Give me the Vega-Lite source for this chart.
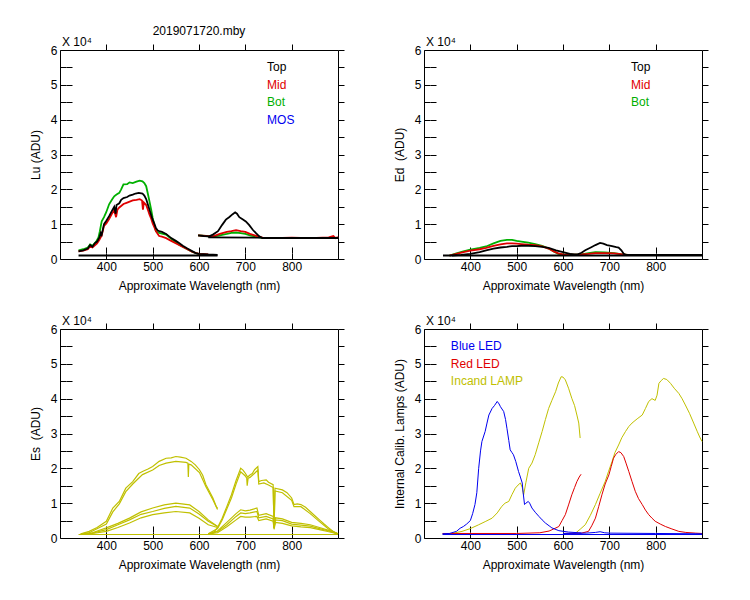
{
  "$schema": "https://vega.github.io/schema/vega-lite/v6.json",
  "background": "white",
  "padding": {"left": 28, "top": 24, "right": 5, "bottom": 5},
  "config": {
    "font": "Liberation Sans",
    "view": {"stroke": "black", "strokeWidth": 1},
    "axis": {
      "domain": false,
      "ticks": true,
      "offset": -6,
      "tickSize": 6,
      "tickColor": "black",
      "tickOpacity": 1,
      "tickWidth": 1,
      "grid": true,
      "gridColor": "black",
      "gridOpacity": 1,
      "gridWidth": 1,
      "labelFontSize": 12,
      "labelColor": "black",
      "titleFontSize": 12,
      "titleFontWeight": "normal",
      "titleColor": "black"
    },
    "axisX": {"gridDash": [6, 197]},
    "axisY": {"gridDash": [6, 266]},
    "text": {"fontSize": 12}
  },
  "datasets": {
    "lu": [
      {"s":"Bot","g":"BotA","w":340,"v":0.25},{"s":"Bot","g":"BotA","w":350,"v":0.28},{"s":"Bot","g":"BotA","w":360,"v":0.33},{"s":"Bot","g":"BotA","w":365,"v":0.42},{"s":"Bot","g":"BotA","w":370,"v":0.38},{"s":"Bot","g":"BotA","w":378,"v":0.5},{"s":"Bot","g":"BotA","w":383,"v":0.62},{"s":"Bot","g":"BotA","w":386,"v":0.8},{"s":"Bot","g":"BotA","w":390,"v":1.08},{"s":"Bot","g":"BotA","w":395,"v":1.2},{"s":"Bot","g":"BotA","w":400,"v":1.35},{"s":"Bot","g":"BotA","w":406,"v":1.57},{"s":"Bot","g":"BotA","w":412,"v":1.7},{"s":"Bot","g":"BotA","w":417,"v":1.8},{"s":"Bot","g":"BotA","w":422,"v":1.85},{"s":"Bot","g":"BotA","w":428,"v":1.9},{"s":"Bot","g":"BotA","w":432,"v":2.0},{"s":"Bot","g":"BotA","w":437,"v":2.14},{"s":"Bot","g":"BotA","w":445,"v":2.15},{"s":"Bot","g":"BotA","w":450,"v":2.2},{"s":"Bot","g":"BotA","w":457,"v":2.18},{"s":"Bot","g":"BotA","w":465,"v":2.22},{"s":"Bot","g":"BotA","w":472,"v":2.25},{"s":"Bot","g":"BotA","w":478,"v":2.23},{"s":"Bot","g":"BotA","w":482,"v":2.18},{"s":"Bot","g":"BotA","w":486,"v":2.09},{"s":"Bot","g":"BotA","w":490,"v":1.85},{"s":"Bot","g":"BotA","w":493,"v":1.66},{"s":"Bot","g":"BotA","w":497,"v":1.4},{"s":"Bot","g":"BotA","w":500,"v":1.18},{"s":"Bot","g":"BotA","w":504,"v":0.95},{"s":"Bot","g":"BotA","w":507,"v":0.8},{"s":"Bot","g":"BotA","w":511,"v":0.76},{"s":"Bot","g":"BotA","w":514,"v":0.75},{"s":"Bot","g":"BotA","w":520,"v":0.73},{"s":"Bot","g":"BotA","w":529,"v":0.7},{"s":"Bot","g":"BotA","w":540,"v":0.58},{"s":"Bot","g":"BotA","w":557,"v":0.41},{"s":"Bot","g":"BotA","w":575,"v":0.28},{"s":"Bot","g":"BotA","w":586,"v":0.2},{"s":"Bot","g":"BotA","w":600,"v":0.14},{"s":"Bot","g":"BotA","w":620,"v":0.12},
      {"s":"Bot","g":"BotB","w":598,"v":0.68},{"s":"Bot","g":"BotB","w":615,"v":0.66},{"s":"Bot","g":"BotB","w":630,"v":0.64},{"s":"Bot","g":"BotB","w":645,"v":0.68},{"s":"Bot","g":"BotB","w":660,"v":0.72},{"s":"Bot","g":"BotB","w":670,"v":0.75},{"s":"Bot","g":"BotB","w":680,"v":0.76},{"s":"Bot","g":"BotB","w":690,"v":0.74},{"s":"Bot","g":"BotB","w":700,"v":0.72},{"s":"Bot","g":"BotB","w":710,"v":0.68},{"s":"Bot","g":"BotB","w":720,"v":0.65},{"s":"Bot","g":"BotB","w":730,"v":0.62},{"s":"Bot","g":"BotB","w":740,"v":0.6},{"s":"Bot","g":"BotB","w":800,"v":0.6},{"s":"Bot","g":"BotB","w":900,"v":0.6},
      {"s":"Mid","g":"MidA","w":340,"v":0.22},{"s":"Mid","g":"MidA","w":350,"v":0.24},{"s":"Mid","g":"MidA","w":360,"v":0.28},{"s":"Mid","g":"MidA","w":365,"v":0.36},{"s":"Mid","g":"MidA","w":370,"v":0.33},{"s":"Mid","g":"MidA","w":380,"v":0.45},{"s":"Mid","g":"MidA","w":385,"v":0.55},{"s":"Mid","g":"MidA","w":390,"v":0.68},{"s":"Mid","g":"MidA","w":395,"v":0.95},{"s":"Mid","g":"MidA","w":400,"v":1.02},{"s":"Mid","g":"MidA","w":406,"v":1.15},{"s":"Mid","g":"MidA","w":412,"v":1.3},{"s":"Mid","g":"MidA","w":417,"v":1.4},{"s":"Mid","g":"MidA","w":421,"v":1.2},{"s":"Mid","g":"MidA","w":424,"v":1.42},{"s":"Mid","g":"MidA","w":428,"v":1.48},{"s":"Mid","g":"MidA","w":437,"v":1.58},{"s":"Mid","g":"MidA","w":445,"v":1.62},{"s":"Mid","g":"MidA","w":457,"v":1.68},{"s":"Mid","g":"MidA","w":465,"v":1.7},{"s":"Mid","g":"MidA","w":472,"v":1.72},{"s":"Mid","g":"MidA","w":477,"v":1.68},{"s":"Mid","g":"MidA","w":479,"v":1.42},{"s":"Mid","g":"MidA","w":481,"v":1.62},{"s":"Mid","g":"MidA","w":486,"v":1.55},{"s":"Mid","g":"MidA","w":490,"v":1.4},{"s":"Mid","g":"MidA","w":493,"v":1.28},{"s":"Mid","g":"MidA","w":497,"v":1.15},{"s":"Mid","g":"MidA","w":500,"v":1.02},{"s":"Mid","g":"MidA","w":504,"v":0.9},{"s":"Mid","g":"MidA","w":507,"v":0.8},{"s":"Mid","g":"MidA","w":511,"v":0.72},{"s":"Mid","g":"MidA","w":514,"v":0.66},{"s":"Mid","g":"MidA","w":520,"v":0.64},{"s":"Mid","g":"MidA","w":529,"v":0.6},{"s":"Mid","g":"MidA","w":540,"v":0.52},{"s":"Mid","g":"MidA","w":557,"v":0.4},{"s":"Mid","g":"MidA","w":575,"v":0.28},{"s":"Mid","g":"MidA","w":586,"v":0.2},{"s":"Mid","g":"MidA","w":600,"v":0.15},{"s":"Mid","g":"MidA","w":620,"v":0.13},
      {"s":"Mid","g":"MidB","w":598,"v":0.68},{"s":"Mid","g":"MidB","w":615,"v":0.66},{"s":"Mid","g":"MidB","w":630,"v":0.65},{"s":"Mid","g":"MidB","w":645,"v":0.72},{"s":"Mid","g":"MidB","w":660,"v":0.78},{"s":"Mid","g":"MidB","w":670,"v":0.8},{"s":"Mid","g":"MidB","w":680,"v":0.83},{"s":"Mid","g":"MidB","w":690,"v":0.8},{"s":"Mid","g":"MidB","w":700,"v":0.78},{"s":"Mid","g":"MidB","w":710,"v":0.72},{"s":"Mid","g":"MidB","w":720,"v":0.68},{"s":"Mid","g":"MidB","w":730,"v":0.64},{"s":"Mid","g":"MidB","w":740,"v":0.6},{"s":"Mid","g":"MidB","w":760,"v":0.6},{"s":"Mid","g":"MidB","w":800,"v":0.61},{"s":"Mid","g":"MidB","w":840,"v":0.6},{"s":"Mid","g":"MidB","w":880,"v":0.62},{"s":"Mid","g":"MidB","w":890,"v":0.66},{"s":"Mid","g":"MidB","w":895,"v":0.6},{"s":"Mid","g":"MidB","w":900,"v":0.63},
      {"s":"Top","g":"TopA","w":340,"v":0.22},{"s":"Top","g":"TopA","w":350,"v":0.25},{"s":"Top","g":"TopA","w":360,"v":0.3},{"s":"Top","g":"TopA","w":365,"v":0.4},{"s":"Top","g":"TopA","w":370,"v":0.35},{"s":"Top","g":"TopA","w":375,"v":0.45},{"s":"Top","g":"TopA","w":380,"v":0.5},{"s":"Top","g":"TopA","w":385,"v":0.62},{"s":"Top","g":"TopA","w":388,"v":0.75},{"s":"Top","g":"TopA","w":390,"v":0.7},{"s":"Top","g":"TopA","w":395,"v":1.0},{"s":"Top","g":"TopA","w":400,"v":1.1},{"s":"Top","g":"TopA","w":406,"v":1.23},{"s":"Top","g":"TopA","w":412,"v":1.38},{"s":"Top","g":"TopA","w":417,"v":1.5},{"s":"Top","g":"TopA","w":420,"v":1.3},{"s":"Top","g":"TopA","w":422,"v":1.55},{"s":"Top","g":"TopA","w":428,"v":1.6},{"s":"Top","g":"TopA","w":432,"v":1.7},{"s":"Top","g":"TopA","w":437,"v":1.75},{"s":"Top","g":"TopA","w":445,"v":1.78},{"s":"Top","g":"TopA","w":450,"v":1.82},{"s":"Top","g":"TopA","w":457,"v":1.85},{"s":"Top","g":"TopA","w":463,"v":1.88},{"s":"Top","g":"TopA","w":470,"v":1.9},{"s":"Top","g":"TopA","w":478,"v":1.88},{"s":"Top","g":"TopA","w":482,"v":1.82},{"s":"Top","g":"TopA","w":486,"v":1.72},{"s":"Top","g":"TopA","w":490,"v":1.55},{"s":"Top","g":"TopA","w":493,"v":1.42},{"s":"Top","g":"TopA","w":497,"v":1.25},{"s":"Top","g":"TopA","w":500,"v":1.13},{"s":"Top","g":"TopA","w":504,"v":1.0},{"s":"Top","g":"TopA","w":507,"v":0.89},{"s":"Top","g":"TopA","w":511,"v":0.82},{"s":"Top","g":"TopA","w":514,"v":0.8},{"s":"Top","g":"TopA","w":520,"v":0.78},{"s":"Top","g":"TopA","w":529,"v":0.72},{"s":"Top","g":"TopA","w":540,"v":0.6},{"s":"Top","g":"TopA","w":550,"v":0.52},{"s":"Top","g":"TopA","w":557,"v":0.46},{"s":"Top","g":"TopA","w":565,"v":0.38},{"s":"Top","g":"TopA","w":575,"v":0.3},{"s":"Top","g":"TopA","w":586,"v":0.22},{"s":"Top","g":"TopA","w":593,"v":0.17},{"s":"Top","g":"TopA","w":600,"v":0.15},{"s":"Top","g":"TopA","w":620,"v":0.13},{"s":"Top","g":"TopA","w":640,"v":0.12},
      {"s":"Top","g":"TopB","w":598,"v":0.68},{"s":"Top","g":"TopB","w":610,"v":0.66},{"s":"Top","g":"TopB","w":622,"v":0.65},{"s":"Top","g":"TopB","w":630,"v":0.7},{"s":"Top","g":"TopB","w":641,"v":0.8},{"s":"Top","g":"TopB","w":650,"v":0.98},{"s":"Top","g":"TopB","w":658,"v":1.13},{"s":"Top","g":"TopB","w":665,"v":1.2},{"s":"Top","g":"TopB","w":672,"v":1.28},{"s":"Top","g":"TopB","w":678,"v":1.34},{"s":"Top","g":"TopB","w":682,"v":1.3},{"s":"Top","g":"TopB","w":687,"v":1.2},{"s":"Top","g":"TopB","w":694,"v":1.14},{"s":"Top","g":"TopB","w":701,"v":1.08},{"s":"Top","g":"TopB","w":708,"v":0.98},{"s":"Top","g":"TopB","w":716,"v":0.84},{"s":"Top","g":"TopB","w":723,"v":0.74},{"s":"Top","g":"TopB","w":730,"v":0.65},{"s":"Top","g":"TopB","w":737,"v":0.6},{"s":"Top","g":"TopB","w":800,"v":0.6},{"s":"Top","g":"TopB","w":900,"v":0.6},
      {"s":"Top","g":"TopC","w":340,"v":0.1},{"s":"Top","g":"TopC","w":640,"v":0.1},
      {"s":"Top","g":"TopD","w":620,"v":0.62},{"s":"Top","g":"TopD","w":900,"v":0.61}
    ],
    "ed": [
      {"s":"Bot","g":"BotA","w":355,"v":0.1},{"s":"Bot","g":"BotA","w":370,"v":0.16},{"s":"Bot","g":"BotA","w":385,"v":0.22},{"s":"Bot","g":"BotA","w":400,"v":0.27},{"s":"Bot","g":"BotA","w":420,"v":0.32},{"s":"Bot","g":"BotA","w":434,"v":0.36},{"s":"Bot","g":"BotA","w":450,"v":0.45},{"s":"Bot","g":"BotA","w":465,"v":0.52},{"s":"Bot","g":"BotA","w":479,"v":0.55},{"s":"Bot","g":"BotA","w":490,"v":0.55},{"s":"Bot","g":"BotA","w":500,"v":0.52},{"s":"Bot","g":"BotA","w":510,"v":0.5},{"s":"Bot","g":"BotA","w":525,"v":0.47},{"s":"Bot","g":"BotA","w":540,"v":0.43},{"s":"Bot","g":"BotA","w":555,"v":0.38},{"s":"Bot","g":"BotA","w":569,"v":0.3},{"s":"Bot","g":"BotA","w":580,"v":0.22},{"s":"Bot","g":"BotA","w":590,"v":0.15},{"s":"Bot","g":"BotA","w":600,"v":0.13},{"s":"Bot","g":"BotA","w":620,"v":0.12},{"s":"Bot","g":"BotA","w":640,"v":0.11},
      {"s":"Bot","g":"BotB","w":600,"v":0.12},{"s":"Bot","g":"BotB","w":640,"v":0.13},{"s":"Bot","g":"BotB","w":655,"v":0.17},{"s":"Bot","g":"BotB","w":670,"v":0.2},{"s":"Bot","g":"BotB","w":690,"v":0.19},{"s":"Bot","g":"BotB","w":710,"v":0.17},{"s":"Bot","g":"BotB","w":725,"v":0.14},{"s":"Bot","g":"BotB","w":740,"v":0.12},{"s":"Bot","g":"BotB","w":900,"v":0.12},
      {"s":"Mid","g":"MidA","w":355,"v":0.1},{"s":"Mid","g":"MidA","w":370,"v":0.15},{"s":"Mid","g":"MidA","w":385,"v":0.2},{"s":"Mid","g":"MidA","w":400,"v":0.24},{"s":"Mid","g":"MidA","w":420,"v":0.28},{"s":"Mid","g":"MidA","w":434,"v":0.32},{"s":"Mid","g":"MidA","w":450,"v":0.38},{"s":"Mid","g":"MidA","w":465,"v":0.42},{"s":"Mid","g":"MidA","w":479,"v":0.45},{"s":"Mid","g":"MidA","w":490,"v":0.45},{"s":"Mid","g":"MidA","w":500,"v":0.44},{"s":"Mid","g":"MidA","w":510,"v":0.43},{"s":"Mid","g":"MidA","w":525,"v":0.41},{"s":"Mid","g":"MidA","w":540,"v":0.4},{"s":"Mid","g":"MidA","w":555,"v":0.36},{"s":"Mid","g":"MidA","w":569,"v":0.3},{"s":"Mid","g":"MidA","w":580,"v":0.22},{"s":"Mid","g":"MidA","w":590,"v":0.16},{"s":"Mid","g":"MidA","w":600,"v":0.13},{"s":"Mid","g":"MidA","w":620,"v":0.12},{"s":"Mid","g":"MidA","w":640,"v":0.11},
      {"s":"Mid","g":"MidB","w":600,"v":0.12},{"s":"Mid","g":"MidB","w":640,"v":0.13},{"s":"Mid","g":"MidB","w":655,"v":0.15},{"s":"Mid","g":"MidB","w":670,"v":0.17},{"s":"Mid","g":"MidB","w":690,"v":0.17},{"s":"Mid","g":"MidB","w":710,"v":0.16},{"s":"Mid","g":"MidB","w":725,"v":0.14},{"s":"Mid","g":"MidB","w":740,"v":0.12},{"s":"Mid","g":"MidB","w":900,"v":0.12},
      {"s":"Top","g":"TopA","w":360,"v":0.1},{"s":"Top","g":"TopA","w":380,"v":0.12},{"s":"Top","g":"TopA","w":400,"v":0.15},{"s":"Top","g":"TopA","w":420,"v":0.2},{"s":"Top","g":"TopA","w":434,"v":0.25},{"s":"Top","g":"TopA","w":450,"v":0.3},{"s":"Top","g":"TopA","w":465,"v":0.33},{"s":"Top","g":"TopA","w":479,"v":0.35},{"s":"Top","g":"TopA","w":490,"v":0.37},{"s":"Top","g":"TopA","w":500,"v":0.37},{"s":"Top","g":"TopA","w":510,"v":0.38},{"s":"Top","g":"TopA","w":525,"v":0.38},{"s":"Top","g":"TopA","w":540,"v":0.37},{"s":"Top","g":"TopA","w":555,"v":0.35},{"s":"Top","g":"TopA","w":569,"v":0.32},{"s":"Top","g":"TopA","w":585,"v":0.25},{"s":"Top","g":"TopA","w":600,"v":0.2},{"s":"Top","g":"TopA","w":615,"v":0.15},{"s":"Top","g":"TopA","w":625,"v":0.12},{"s":"Top","g":"TopA","w":635,"v":0.12},
      {"s":"Top","g":"TopB","w":615,"v":0.13},{"s":"Top","g":"TopB","w":630,"v":0.13},{"s":"Top","g":"TopB","w":640,"v":0.18},{"s":"Top","g":"TopB","w":648,"v":0.25},{"s":"Top","g":"TopB","w":660,"v":0.33},{"s":"Top","g":"TopB","w":670,"v":0.4},{"s":"Top","g":"TopB","w":680,"v":0.46},{"s":"Top","g":"TopB","w":687,"v":0.44},{"s":"Top","g":"TopB","w":695,"v":0.4},{"s":"Top","g":"TopB","w":706,"v":0.37},{"s":"Top","g":"TopB","w":715,"v":0.34},{"s":"Top","g":"TopB","w":720,"v":0.33},{"s":"Top","g":"TopB","w":726,"v":0.25},{"s":"Top","g":"TopB","w":731,"v":0.15},{"s":"Top","g":"TopB","w":735,"v":0.12},{"s":"Top","g":"TopB","w":760,"v":0.12},{"s":"Top","g":"TopB","w":900,"v":0.12},
      {"s":"Top","g":"TopC","w":341,"v":0.1},{"s":"Top","g":"TopC","w":900,"v":0.1}
    ],
    "es": [
      {"g":"H1A","w":345,"v":0.12},{"g":"H1A","w":363,"v":0.19},{"g":"H1A","w":380,"v":0.3},{"g":"H1A","w":400,"v":0.48},{"g":"H1A","w":414,"v":0.86},{"g":"H1A","w":428,"v":1.05},{"g":"H1A","w":442,"v":1.43},{"g":"H1A","w":457,"v":1.62},{"g":"H1A","w":470,"v":1.85},{"g":"H1A","w":478,"v":1.91},{"g":"H1A","w":490,"v":1.98},{"g":"H1A","w":500,"v":2.05},{"g":"H1A","w":514,"v":2.2},{"g":"H1A","w":529,"v":2.29},{"g":"H1A","w":540,"v":2.3},{"g":"H1A","w":550,"v":2.34},{"g":"H1A","w":560,"v":2.32},{"g":"H1A","w":572,"v":2.29},{"g":"H1A","w":583,"v":2.2},{"g":"H1A","w":592,"v":2.1},{"g":"H1A","w":601,"v":1.96},{"g":"H1A","w":608,"v":1.8},{"g":"H1A","w":615,"v":1.53},{"g":"H1A","w":623,"v":1.33},{"g":"H1A","w":630,"v":1.15},{"g":"H1A","w":637,"v":0.91},{"g":"H1A","w":640,"v":0.85},
      {"g":"H2A","w":345,"v":0.12},{"g":"H2A","w":363,"v":0.15},{"g":"H2A","w":400,"v":0.4},{"g":"H2A","w":414,"v":0.75},{"g":"H2A","w":428,"v":0.98},{"g":"H2A","w":442,"v":1.33},{"g":"H2A","w":457,"v":1.55},{"g":"H2A","w":478,"v":1.82},{"g":"H2A","w":500,"v":1.95},{"g":"H2A","w":514,"v":2.08},{"g":"H2A","w":529,"v":2.15},{"g":"H2A","w":550,"v":2.2},{"g":"H2A","w":572,"v":2.17},{"g":"H2A","w":576,"v":2.15},{"g":"H2A","w":577,"v":1.75},{"g":"H2A","w":578,"v":2.12},{"g":"H2A","w":583,"v":2.1},{"g":"H2A","w":601,"v":1.88},{"g":"H2A","w":615,"v":1.47},{"g":"H2A","w":630,"v":1.1},{"g":"H2A","w":640,"v":0.82},
      {"g":"L1A","w":345,"v":0.12},{"g":"L1A","w":370,"v":0.15},{"g":"L1A","w":400,"v":0.29},{"g":"L1A","w":425,"v":0.42},{"g":"L1A","w":450,"v":0.57},{"g":"L1A","w":475,"v":0.75},{"g":"L1A","w":500,"v":0.86},{"g":"L1A","w":525,"v":0.95},{"g":"L1A","w":550,"v":1.0},{"g":"L1A","w":580,"v":0.95},{"g":"L1A","w":600,"v":0.76},{"g":"L1A","w":620,"v":0.52},{"g":"L1A","w":640,"v":0.33},
      {"g":"L2A","w":345,"v":0.12},{"g":"L2A","w":370,"v":0.14},{"g":"L2A","w":400,"v":0.24},{"g":"L2A","w":425,"v":0.38},{"g":"L2A","w":450,"v":0.52},{"g":"L2A","w":475,"v":0.68},{"g":"L2A","w":500,"v":0.76},{"g":"L2A","w":525,"v":0.85},{"g":"L2A","w":550,"v":0.91},{"g":"L2A","w":580,"v":0.86},{"g":"L2A","w":600,"v":0.69},{"g":"L2A","w":620,"v":0.48},{"g":"L2A","w":640,"v":0.33},
      {"g":"L3A","w":345,"v":0.12},{"g":"L3A","w":370,"v":0.13},{"g":"L3A","w":400,"v":0.19},{"g":"L3A","w":425,"v":0.3},{"g":"L3A","w":450,"v":0.43},{"g":"L3A","w":475,"v":0.58},{"g":"L3A","w":500,"v":0.67},{"g":"L3A","w":525,"v":0.72},{"g":"L3A","w":550,"v":0.76},{"g":"L3A","w":580,"v":0.72},{"g":"L3A","w":600,"v":0.57},{"g":"L3A","w":620,"v":0.38},{"g":"L3A","w":640,"v":0.3},
      {"g":"H1B","w":620,"v":0.12},{"g":"H1B","w":630,"v":0.14},{"g":"H1B","w":640,"v":0.3},{"g":"H1B","w":650,"v":0.57},{"g":"H1B","w":660,"v":0.9},{"g":"H1B","w":670,"v":1.24},{"g":"H1B","w":680,"v":1.65},{"g":"H1B","w":690,"v":2.0},{"g":"H1B","w":695,"v":1.95},{"g":"H1B","w":700,"v":1.86},{"g":"H1B","w":705,"v":1.75},{"g":"H1B","w":710,"v":1.81},{"g":"H1B","w":715,"v":1.85},{"g":"H1B","w":720,"v":1.96},{"g":"H1B","w":727,"v":2.05},{"g":"H1B","w":729,"v":1.62},{"g":"H1B","w":735,"v":1.65},{"g":"H1B","w":745,"v":1.67},{"g":"H1B","w":750,"v":1.6},{"g":"H1B","w":760,"v":1.53},{"g":"H1B","w":762,"v":0.29},{"g":"H1B","w":764,"v":1.43},{"g":"H1B","w":780,"v":1.38},{"g":"H1B","w":790,"v":1.3},{"g":"H1B","w":800,"v":1.15},{"g":"H1B","w":805,"v":0.96},{"g":"H1B","w":812,"v":0.98},{"g":"H1B","w":820,"v":0.96},{"g":"H1B","w":830,"v":0.88},{"g":"H1B","w":840,"v":0.76},{"g":"H1B","w":850,"v":0.64},{"g":"H1B","w":860,"v":0.52},{"g":"H1B","w":870,"v":0.4},{"g":"H1B","w":880,"v":0.29},{"g":"H1B","w":890,"v":0.18},{"g":"H1B","w":900,"v":0.12},
      {"g":"H2B","w":620,"v":0.12},{"g":"H2B","w":640,"v":0.27},{"g":"H2B","w":650,"v":0.52},{"g":"H2B","w":660,"v":0.83},{"g":"H2B","w":670,"v":1.15},{"g":"H2B","w":680,"v":1.55},{"g":"H2B","w":690,"v":1.9},{"g":"H2B","w":700,"v":1.78},{"g":"H2B","w":703,"v":1.72},{"g":"H2B","w":704,"v":1.5},{"g":"H2B","w":706,"v":1.72},{"g":"H2B","w":710,"v":1.74},{"g":"H2B","w":720,"v":1.86},{"g":"H2B","w":727,"v":1.95},{"g":"H2B","w":729,"v":1.55},{"g":"H2B","w":740,"v":1.58},{"g":"H2B","w":750,"v":1.52},{"g":"H2B","w":760,"v":1.45},{"g":"H2B","w":762,"v":0.3},{"g":"H2B","w":764,"v":1.35},{"g":"H2B","w":780,"v":1.3},{"g":"H2B","w":800,"v":1.08},{"g":"H2B","w":805,"v":0.9},{"g":"H2B","w":820,"v":0.9},{"g":"H2B","w":840,"v":0.7},{"g":"H2B","w":860,"v":0.47},{"g":"H2B","w":880,"v":0.25},{"g":"H2B","w":900,"v":0.12},
      {"g":"L1B","w":620,"v":0.12},{"g":"L1B","w":640,"v":0.2},{"g":"L1B","w":660,"v":0.45},{"g":"L1B","w":680,"v":0.7},{"g":"L1B","w":690,"v":0.81},{"g":"L1B","w":700,"v":0.78},{"g":"L1B","w":710,"v":0.8},{"g":"L1B","w":725,"v":0.86},{"g":"L1B","w":729,"v":0.65},{"g":"L1B","w":745,"v":0.7},{"g":"L1B","w":760,"v":0.62},{"g":"L1B","w":762,"v":0.3},{"g":"L1B","w":765,"v":0.58},{"g":"L1B","w":780,"v":0.55},{"g":"L1B","w":800,"v":0.45},{"g":"L1B","w":820,"v":0.42},{"g":"L1B","w":840,"v":0.38},{"g":"L1B","w":860,"v":0.3},{"g":"L1B","w":880,"v":0.22},{"g":"L1B","w":900,"v":0.12},
      {"g":"L2B","w":620,"v":0.12},{"g":"L2B","w":640,"v":0.18},{"g":"L2B","w":660,"v":0.38},{"g":"L2B","w":680,"v":0.62},{"g":"L2B","w":690,"v":0.72},{"g":"L2B","w":700,"v":0.7},{"g":"L2B","w":710,"v":0.72},{"g":"L2B","w":725,"v":0.76},{"g":"L2B","w":729,"v":0.58},{"g":"L2B","w":745,"v":0.62},{"g":"L2B","w":760,"v":0.55},{"g":"L2B","w":762,"v":0.28},{"g":"L2B","w":765,"v":0.52},{"g":"L2B","w":780,"v":0.5},{"g":"L2B","w":800,"v":0.4},{"g":"L2B","w":820,"v":0.37},{"g":"L2B","w":840,"v":0.34},{"g":"L2B","w":860,"v":0.27},{"g":"L2B","w":880,"v":0.2},{"g":"L2B","w":900,"v":0.12},
      {"g":"L3B","w":620,"v":0.12},{"g":"L3B","w":640,"v":0.15},{"g":"L3B","w":660,"v":0.32},{"g":"L3B","w":680,"v":0.52},{"g":"L3B","w":690,"v":0.62},{"g":"L3B","w":700,"v":0.6},{"g":"L3B","w":710,"v":0.6},{"g":"L3B","w":725,"v":0.62},{"g":"L3B","w":729,"v":0.5},{"g":"L3B","w":745,"v":0.55},{"g":"L3B","w":760,"v":0.48},{"g":"L3B","w":762,"v":0.25},{"g":"L3B","w":765,"v":0.45},{"g":"L3B","w":780,"v":0.42},{"g":"L3B","w":800,"v":0.35},{"g":"L3B","w":820,"v":0.32},{"g":"L3B","w":840,"v":0.3},{"g":"L3B","w":860,"v":0.24},{"g":"L3B","w":880,"v":0.18},{"g":"L3B","w":900,"v":0.12},
      {"g":"Base","w":340,"v":0.1},{"g":"Base","w":900,"v":0.1}
    ],
    "cal": [
      {"s":"Lamp","g":"LampA","w":341,"v":0.1},{"s":"Lamp","g":"LampA","w":360,"v":0.13},{"s":"Lamp","g":"LampA","w":382,"v":0.19},{"s":"Lamp","g":"LampA","w":400,"v":0.27},{"s":"Lamp","g":"LampA","w":418,"v":0.38},{"s":"Lamp","g":"LampA","w":432,"v":0.47},{"s":"Lamp","g":"LampA","w":447,"v":0.57},{"s":"Lamp","g":"LampA","w":458,"v":0.72},{"s":"Lamp","g":"LampA","w":468,"v":0.91},{"s":"Lamp","g":"LampA","w":475,"v":1.0},{"s":"Lamp","g":"LampA","w":483,"v":1.05},{"s":"Lamp","g":"LampA","w":490,"v":1.25},{"s":"Lamp","g":"LampA","w":497,"v":1.43},{"s":"Lamp","g":"LampA","w":503,"v":1.52},{"s":"Lamp","g":"LampA","w":508,"v":1.58},{"s":"Lamp","g":"LampA","w":512,"v":1.45},{"s":"Lamp","g":"LampA","w":515,"v":1.24},{"s":"Lamp","g":"LampA","w":520,"v":1.6},{"s":"Lamp","g":"LampA","w":526,"v":2.0},{"s":"Lamp","g":"LampA","w":533,"v":2.15},{"s":"Lamp","g":"LampA","w":540,"v":2.39},{"s":"Lamp","g":"LampA","w":548,"v":2.75},{"s":"Lamp","g":"LampA","w":555,"v":3.06},{"s":"Lamp","g":"LampA","w":562,"v":3.4},{"s":"Lamp","g":"LampA","w":569,"v":3.72},{"s":"Lamp","g":"LampA","w":576,"v":3.95},{"s":"Lamp","g":"LampA","w":584,"v":4.2},{"s":"Lamp","g":"LampA","w":590,"v":4.45},{"s":"Lamp","g":"LampA","w":596,"v":4.63},{"s":"Lamp","g":"LampA","w":600,"v":4.62},{"s":"Lamp","g":"LampA","w":605,"v":4.54},{"s":"Lamp","g":"LampA","w":612,"v":4.3},{"s":"Lamp","g":"LampA","w":619,"v":4.01},{"s":"Lamp","g":"LampA","w":625,"v":3.8},{"s":"Lamp","g":"LampA","w":630,"v":3.53},{"s":"Lamp","g":"LampA","w":634,"v":3.3},{"s":"Lamp","g":"LampA","w":637,"v":2.87},
      {"s":"Lamp","g":"LampB","w":620,"v":0.12},{"s":"Lamp","g":"LampB","w":627,"v":0.14},{"s":"Lamp","g":"LampB","w":637,"v":0.25},{"s":"Lamp","g":"LampB","w":648,"v":0.38},{"s":"Lamp","g":"LampB","w":659,"v":0.65},{"s":"Lamp","g":"LampB","w":670,"v":0.96},{"s":"Lamp","g":"LampB","w":680,"v":1.28},{"s":"Lamp","g":"LampB","w":691,"v":1.62},{"s":"Lamp","g":"LampB","w":698,"v":1.9},{"s":"Lamp","g":"LampB","w":706,"v":2.2},{"s":"Lamp","g":"LampB","w":712,"v":2.45},{"s":"Lamp","g":"LampB","w":720,"v":2.67},{"s":"Lamp","g":"LampB","w":727,"v":2.88},{"s":"Lamp","g":"LampB","w":735,"v":3.06},{"s":"Lamp","g":"LampB","w":742,"v":3.2},{"s":"Lamp","g":"LampB","w":749,"v":3.3},{"s":"Lamp","g":"LampB","w":760,"v":3.42},{"s":"Lamp","g":"LampB","w":771,"v":3.53},{"s":"Lamp","g":"LampB","w":778,"v":3.72},{"s":"Lamp","g":"LampB","w":785,"v":3.92},{"s":"Lamp","g":"LampB","w":792,"v":4.0},{"s":"Lamp","g":"LampB","w":799,"v":3.95},{"s":"Lamp","g":"LampB","w":803,"v":4.1},{"s":"Lamp","g":"LampB","w":807,"v":4.44},{"s":"Lamp","g":"LampB","w":812,"v":4.52},{"s":"Lamp","g":"LampB","w":817,"v":4.58},{"s":"Lamp","g":"LampB","w":824,"v":4.55},{"s":"Lamp","g":"LampB","w":832,"v":4.44},{"s":"Lamp","g":"LampB","w":840,"v":4.3},{"s":"Lamp","g":"LampB","w":850,"v":4.15},{"s":"Lamp","g":"LampB","w":857,"v":4.0},{"s":"Lamp","g":"LampB","w":864,"v":3.82},{"s":"Lamp","g":"LampB","w":873,"v":3.58},{"s":"Lamp","g":"LampB","w":882,"v":3.3},{"s":"Lamp","g":"LampB","w":890,"v":3.05},{"s":"Lamp","g":"LampB","w":895,"v":2.9},{"s":"Lamp","g":"LampB","w":900,"v":2.77},
      {"s":"Red","g":"RedA","w":340,"v":0.13},{"s":"Red","g":"RedA","w":500,"v":0.13},{"s":"Red","g":"RedA","w":550,"v":0.15},{"s":"Red","g":"RedA","w":570,"v":0.2},{"s":"Red","g":"RedA","w":580,"v":0.26},{"s":"Red","g":"RedA","w":591,"v":0.33},{"s":"Red","g":"RedA","w":598,"v":0.5},{"s":"Red","g":"RedA","w":605,"v":0.67},{"s":"Red","g":"RedA","w":612,"v":0.95},{"s":"Red","g":"RedA","w":619,"v":1.24},{"s":"Red","g":"RedA","w":625,"v":1.45},{"s":"Red","g":"RedA","w":630,"v":1.62},{"s":"Red","g":"RedA","w":635,"v":1.75},{"s":"Red","g":"RedA","w":639,"v":1.83},
      {"s":"Red","g":"RedB","w":600,"v":0.13},{"s":"Red","g":"RedB","w":640,"v":0.14},{"s":"Red","g":"RedB","w":655,"v":0.19},{"s":"Red","g":"RedB","w":662,"v":0.35},{"s":"Red","g":"RedB","w":670,"v":0.57},{"s":"Red","g":"RedB","w":677,"v":0.9},{"s":"Red","g":"RedB","w":684,"v":1.24},{"s":"Red","g":"RedB","w":691,"v":1.55},{"s":"Red","g":"RedB","w":699,"v":1.81},{"s":"Red","g":"RedB","w":704,"v":2.05},{"s":"Red","g":"RedB","w":709,"v":2.29},{"s":"Red","g":"RedB","w":714,"v":2.4},{"s":"Red","g":"RedB","w":720,"v":2.48},{"s":"Red","g":"RedB","w":725,"v":2.45},{"s":"Red","g":"RedB","w":731,"v":2.34},{"s":"Red","g":"RedB","w":736,"v":2.15},{"s":"Red","g":"RedB","w":742,"v":1.91},{"s":"Red","g":"RedB","w":749,"v":1.62},{"s":"Red","g":"RedB","w":756,"v":1.34},{"s":"Red","g":"RedB","w":763,"v":1.13},{"s":"Red","g":"RedB","w":771,"v":0.96},{"s":"Red","g":"RedB","w":778,"v":0.8},{"s":"Red","g":"RedB","w":785,"v":0.67},{"s":"Red","g":"RedB","w":792,"v":0.57},{"s":"Red","g":"RedB","w":799,"v":0.48},{"s":"Red","g":"RedB","w":810,"v":0.4},{"s":"Red","g":"RedB","w":821,"v":0.33},{"s":"Red","g":"RedB","w":835,"v":0.26},{"s":"Red","g":"RedB","w":850,"v":0.19},{"s":"Red","g":"RedB","w":865,"v":0.16},{"s":"Red","g":"RedB","w":886,"v":0.14},{"s":"Red","g":"RedB","w":900,"v":0.13},
      {"s":"Blue","g":"BlueA","w":340,"v":0.12},{"s":"Blue","g":"BlueA","w":355,"v":0.13},{"s":"Blue","g":"BlueA","w":370,"v":0.19},{"s":"Blue","g":"BlueA","w":378,"v":0.28},{"s":"Blue","g":"BlueA","w":385,"v":0.33},{"s":"Blue","g":"BlueA","w":392,"v":0.4},{"s":"Blue","g":"BlueA","w":400,"v":0.5},{"s":"Blue","g":"BlueA","w":405,"v":0.7},{"s":"Blue","g":"BlueA","w":410,"v":0.96},{"s":"Blue","g":"BlueA","w":414,"v":1.3},{"s":"Blue","g":"BlueA","w":418,"v":2.0},{"s":"Blue","g":"BlueA","w":422,"v":2.5},{"s":"Blue","g":"BlueA","w":425,"v":2.77},{"s":"Blue","g":"BlueA","w":432,"v":3.06},{"s":"Blue","g":"BlueA","w":436,"v":3.3},{"s":"Blue","g":"BlueA","w":440,"v":3.53},{"s":"Blue","g":"BlueA","w":447,"v":3.72},{"s":"Blue","g":"BlueA","w":452,"v":3.8},{"s":"Blue","g":"BlueA","w":458,"v":3.92},{"s":"Blue","g":"BlueA","w":462,"v":3.85},{"s":"Blue","g":"BlueA","w":465,"v":3.77},{"s":"Blue","g":"BlueA","w":472,"v":3.63},{"s":"Blue","g":"BlueA","w":476,"v":3.4},{"s":"Blue","g":"BlueA","w":479,"v":3.15},{"s":"Blue","g":"BlueA","w":483,"v":2.8},{"s":"Blue","g":"BlueA","w":486,"v":2.53},{"s":"Blue","g":"BlueA","w":490,"v":2.45},{"s":"Blue","g":"BlueA","w":493,"v":2.39},{"s":"Blue","g":"BlueA","w":498,"v":2.2},{"s":"Blue","g":"BlueA","w":504,"v":1.91},{"s":"Blue","g":"BlueA","w":508,"v":1.75},{"s":"Blue","g":"BlueA","w":512,"v":1.58},{"s":"Blue","g":"BlueA","w":514,"v":1.3},{"s":"Blue","g":"BlueA","w":517,"v":0.96},{"s":"Blue","g":"BlueA","w":520,"v":1.0},{"s":"Blue","g":"BlueA","w":525,"v":1.05},{"s":"Blue","g":"BlueA","w":528,"v":1.0},{"s":"Blue","g":"BlueA","w":533,"v":0.86},{"s":"Blue","g":"BlueA","w":540,"v":0.74},{"s":"Blue","g":"BlueA","w":548,"v":0.62},{"s":"Blue","g":"BlueA","w":555,"v":0.52},{"s":"Blue","g":"BlueA","w":562,"v":0.43},{"s":"Blue","g":"BlueA","w":570,"v":0.35},{"s":"Blue","g":"BlueA","w":576,"v":0.29},{"s":"Blue","g":"BlueA","w":591,"v":0.21},{"s":"Blue","g":"BlueA","w":612,"v":0.17},{"s":"Blue","g":"BlueA","w":634,"v":0.15},{"s":"Blue","g":"BlueA","w":640,"v":0.14},
      {"s":"Blue","g":"BlueB","w":600,"v":0.13},{"s":"Blue","g":"BlueB","w":650,"v":0.14},{"s":"Blue","g":"BlueB","w":670,"v":0.16},{"s":"Blue","g":"BlueB","w":680,"v":0.18},{"s":"Blue","g":"BlueB","w":690,"v":0.15},{"s":"Blue","g":"BlueB","w":700,"v":0.14},{"s":"Blue","g":"BlueB","w":800,"v":0.13},{"s":"Blue","g":"BlueB","w":900,"v":0.12},
      {"s":"Blue","g":"BlueC","w":340,"v":0.1},{"s":"Blue","g":"BlueC","w":900,"v":0.1}
    ]
  },
  "columns": 2,
  "spacing": {"row": 22, "column": 49},
  "resolve": {"scale": {"color": "independent", "x": "independent", "y": "independent"}},
  "concat": [
    {
      "width": 278,
      "height": 209,
      "title": {"text": "2019071720.mby", "fontSize": 12, "fontWeight": "normal", "color": "black", "anchor": "middle", "offset": -1.5},
      "layer": [
        {
          "data": {"name": "lu"},
          "mark": {"type": "line", "strokeWidth": 1.8},
          "encoding": {
            "x": {"field": "w", "type": "quantitative", "scale": {"domain": [300, 900], "nice": false, "zero": false},
              "axis": {"orient": "bottom", "values": [400, 500, 600, 700, 800], "title": "Approximate Wavelength (nm)", "labelPadding": 2, "titlePadding": 8}},
            "y": {"field": "v", "type": "quantitative", "scale": {"domain": [0, 6], "nice": false},
              "axis": {"orient": "left", "values": [0, 0.5, 1, 1.5, 2, 2.5, 3, 3.5, 4, 4.5, 5, 5.5, 6], "labelExpr": "datum.value % 1 == 0 ? '' + datum.value : ''", "title": "Lu (ADU)", "labelPadding": 3, "titlePadding": 8}},
            "color": {"field": "s", "type": "nominal", "scale": {"domain": ["Top", "Mid", "Bot", "MOS"], "range": ["#000000", "#e00000", "#00b000", "#0000f0"]}, "legend": null},
            "detail": {"field": "g"}
          }
        },
        {
          "data": {"values": [{}]},
          "mark": {"type": "text", "text": "X 10⁴", "align": "left", "baseline": "alphabetic", "dx": 2, "dy": -4, "fill": "black"},
          "encoding": {
            "x": {"datum": 300, "type": "quantitative", "axis": null},
            "y": {"datum": 6, "type": "quantitative", "axis": null}
          }
        },
        {"data": {"values": [{}]}, "mark": {"type": "text", "text": "Top", "align": "left", "baseline": "middle", "fill": "#000000"},
          "encoding": {"x": {"datum": 747, "type": "quantitative", "axis": null}, "y": {"datum": 5.5, "type": "quantitative", "axis": null}}},
        {"data": {"values": [{}]}, "mark": {"type": "text", "text": "Mid", "align": "left", "baseline": "middle", "fill": "#e00000"},
          "encoding": {"x": {"datum": 747, "type": "quantitative", "axis": null}, "y": {"datum": 5.0, "type": "quantitative", "axis": null}}},
        {"data": {"values": [{}]}, "mark": {"type": "text", "text": "Bot", "align": "left", "baseline": "middle", "fill": "#00b000"},
          "encoding": {"x": {"datum": 747, "type": "quantitative", "axis": null}, "y": {"datum": 4.5, "type": "quantitative", "axis": null}}},
        {"data": {"values": [{}]}, "mark": {"type": "text", "text": "MOS", "align": "left", "baseline": "middle", "fill": "#0000f0"},
          "encoding": {"x": {"datum": 747, "type": "quantitative", "axis": null}, "y": {"datum": 4.0, "type": "quantitative", "axis": null}}}
      ],
      "resolve": {"axis": {"x": "independent", "y": "independent"}}
    },
    {
      "width": 278,
      "height": 209,
      "layer": [
        {
          "data": {"name": "ed"},
          "mark": {"type": "line", "strokeWidth": 1.8},
          "encoding": {
            "x": {"field": "w", "type": "quantitative", "scale": {"domain": [300, 900], "nice": false, "zero": false},
              "axis": {"orient": "bottom", "values": [400, 500, 600, 700, 800], "title": "Approximate Wavelength (nm)", "labelPadding": 2, "titlePadding": 8}},
            "y": {"field": "v", "type": "quantitative", "scale": {"domain": [0, 6], "nice": false},
              "axis": {"orient": "left", "values": [0, 0.5, 1, 1.5, 2, 2.5, 3, 3.5, 4, 4.5, 5, 5.5, 6], "labelExpr": "datum.value % 1 == 0 ? '' + datum.value : ''", "title": "Ed\u00a0 (ADU)", "labelPadding": 3, "titlePadding": 8}},
            "color": {"field": "s", "type": "nominal", "scale": {"domain": ["Top", "Mid", "Bot"], "range": ["#000000", "#e00000", "#00b000"]}, "legend": null},
            "detail": {"field": "g"}
          }
        },
        {
          "data": {"values": [{}]},
          "mark": {"type": "text", "text": "X 10⁴", "align": "left", "baseline": "alphabetic", "dx": 2, "dy": -4, "fill": "black"},
          "encoding": {
            "x": {"datum": 300, "type": "quantitative", "axis": null},
            "y": {"datum": 6, "type": "quantitative", "axis": null}
          }
        },
        {"data": {"values": [{}]}, "mark": {"type": "text", "text": "Top", "align": "left", "baseline": "middle", "fill": "#000000"},
          "encoding": {"x": {"datum": 747, "type": "quantitative", "axis": null}, "y": {"datum": 5.5, "type": "quantitative", "axis": null}}},
        {"data": {"values": [{}]}, "mark": {"type": "text", "text": "Mid", "align": "left", "baseline": "middle", "fill": "#e00000"},
          "encoding": {"x": {"datum": 747, "type": "quantitative", "axis": null}, "y": {"datum": 5.0, "type": "quantitative", "axis": null}}},
        {"data": {"values": [{}]}, "mark": {"type": "text", "text": "Bot", "align": "left", "baseline": "middle", "fill": "#00b000"},
          "encoding": {"x": {"datum": 747, "type": "quantitative", "axis": null}, "y": {"datum": 4.5, "type": "quantitative", "axis": null}}}
      ],
      "resolve": {"axis": {"x": "independent", "y": "independent"}}
    },
    {
      "width": 278,
      "height": 209,
      "layer": [
        {
          "data": {"name": "es"},
          "mark": {"type": "line", "strokeWidth": 1.2, "color": "#c0c000"},
          "encoding": {
            "x": {"field": "w", "type": "quantitative", "scale": {"domain": [300, 900], "nice": false, "zero": false},
              "axis": {"orient": "bottom", "values": [400, 500, 600, 700, 800], "title": "Approximate Wavelength (nm)", "labelPadding": 2, "titlePadding": 8}},
            "y": {"field": "v", "type": "quantitative", "scale": {"domain": [0, 6], "nice": false},
              "axis": {"orient": "left", "values": [0, 0.5, 1, 1.5, 2, 2.5, 3, 3.5, 4, 4.5, 5, 5.5, 6], "labelExpr": "datum.value % 1 == 0 ? '' + datum.value : ''", "title": "Es\u00a0 (ADU)", "labelPadding": 3, "titlePadding": 8}},
            "detail": {"field": "g"}
          }
        },
        {
          "data": {"values": [{}]},
          "mark": {"type": "text", "text": "X 10⁴", "align": "left", "baseline": "alphabetic", "dx": 2, "dy": -4, "fill": "black"},
          "encoding": {
            "x": {"datum": 300, "type": "quantitative", "axis": null},
            "y": {"datum": 6, "type": "quantitative", "axis": null}
          }
        }
      ],
      "resolve": {"axis": {"x": "independent", "y": "independent"}}
    },
    {
      "width": 278,
      "height": 209,
      "layer": [
        {
          "data": {"name": "cal"},
          "mark": {"type": "line", "strokeWidth": 1},
          "encoding": {
            "x": {"field": "w", "type": "quantitative", "scale": {"domain": [300, 900], "nice": false, "zero": false},
              "axis": {"orient": "bottom", "values": [400, 500, 600, 700, 800], "title": "Approximate Wavelength (nm)", "labelPadding": 2, "titlePadding": 8}},
            "y": {"field": "v", "type": "quantitative", "scale": {"domain": [0, 6], "nice": false},
              "axis": {"orient": "left", "values": [0, 0.5, 1, 1.5, 2, 2.5, 3, 3.5, 4, 4.5, 5, 5.5, 6], "labelExpr": "datum.value % 1 == 0 ? '' + datum.value : ''", "title": "Internal Calib. Lamps (ADU)", "labelPadding": 3, "titlePadding": 8}},
            "color": {"field": "s", "type": "nominal", "scale": {"domain": ["Blue", "Red", "Lamp"], "range": ["#0000f0", "#e00000", "#c0c000"]}, "legend": null},
            "detail": {"field": "g"}
          }
        },
        {
          "data": {"values": [{}]},
          "mark": {"type": "text", "text": "X 10⁴", "align": "left", "baseline": "alphabetic", "dx": 2, "dy": -4, "fill": "black"},
          "encoding": {
            "x": {"datum": 300, "type": "quantitative", "axis": null},
            "y": {"datum": 6, "type": "quantitative", "axis": null}
          }
        },
        {"data": {"values": [{}]}, "mark": {"type": "text", "text": "Blue LED", "align": "left", "baseline": "middle", "fill": "#0000f0"},
          "encoding": {"x": {"datum": 358, "type": "quantitative", "axis": null}, "y": {"datum": 5.5, "type": "quantitative", "axis": null}}},
        {"data": {"values": [{}]}, "mark": {"type": "text", "text": "Red LED", "align": "left", "baseline": "middle", "fill": "#e00000"},
          "encoding": {"x": {"datum": 358, "type": "quantitative", "axis": null}, "y": {"datum": 5.0, "type": "quantitative", "axis": null}}},
        {"data": {"values": [{}]}, "mark": {"type": "text", "text": "Incand LAMP", "align": "left", "baseline": "middle", "fill": "#c0c000"},
          "encoding": {"x": {"datum": 358, "type": "quantitative", "axis": null}, "y": {"datum": 4.5, "type": "quantitative", "axis": null}}}
      ],
      "resolve": {"axis": {"x": "independent", "y": "independent"}}
    }
  ]
}
